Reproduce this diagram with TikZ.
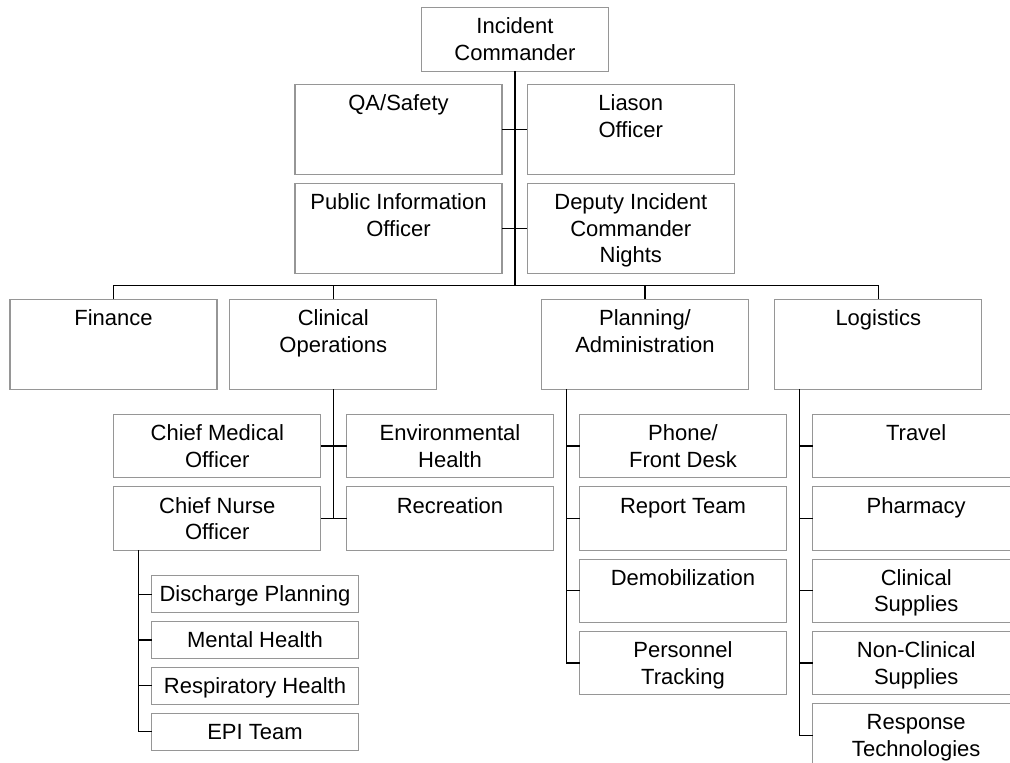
\documentclass[tikz,border=0pt]{standalone}
\usepackage{fontspec}
\setmainfont{Liberation Sans}
\definecolor{boxgray}{RGB}{150,150,150}
\begin{document}
\begin{tikzpicture}[x=1pt,y=-1pt,
  unit/.style={draw=boxgray, line width=1.1pt, fill=white, minimum width=207pt,
               inner sep=0pt, outer sep=0pt},
  tall/.style={unit, minimum height=90pt},
  mid/.style={unit, minimum height=63.4pt},
  low/.style={unit, minimum height=37pt},
  caption/.style={anchor=north, inner sep=0pt, yshift=-7.5pt, align=center,
                  font=\fontsize{22}{26.5}\selectfont},
  link/.style={draw=black, line width=1.2pt}
]
\useasboundingbox (0,0) rectangle (1010,763);
\fill[white] (0,0) rectangle (1010,763);
\clip (0,0) rectangle (1010,763);

% command staff
\node[unit, minimum width=186.6pt, minimum height=63.7pt,
      label={[caption]north:{\strut Incident\\Commander}}] (ic) at (515,39.2) {};
\node[tall, label={[caption]north:{\strut QA/Safety}}] (qa) at (398.5,129.3) {};
\node[tall, label={[caption]north:{\strut Liason\\Officer}}] (liaison) at (630.8,129.3) {};
\node[tall, label={[caption]north:{\strut Public Information\\Officer}}] (pio) at (398.5,228.3) {};
\node[tall, label={[caption]north:{\strut Deputy Incident\\Commander\\Nights}}] (deputy) at (630.8,228.3) {};

% sections
\node[tall, label={[caption]north:{\strut Finance}}] (fin) at (113.5,344.3) {};
\node[tall, label={[caption]north:{\strut Clinical\\Operations}}] (clin) at (333.3,344.3) {};
\node[tall, label={[caption]north:{\strut Planning/\\Administration}}] (plan) at (645,344.3) {};
\node[tall, label={[caption]north:{\strut Logistics}}] (logi) at (878.3,344.3) {};

% clinical operations units
\node[mid, label={[caption]north:{\strut Chief Medical\\Officer}}] (cmo) at (217.3,446) {};
\node[mid, label={[caption]north:{\strut Environmental\\Health}}] (env) at (450,446) {};
\node[mid, label={[caption]north:{\strut Chief Nurse\\Officer}}] (cno) at (217.3,518.5) {};
\node[mid, label={[caption]north:{\strut Recreation}}] (rec) at (450,518.5) {};

% nursing teams
\node[low, label={[caption]north:{\strut Discharge Planning}}] (dis) at (255,594.2) {};
\node[low, label={[caption]north:{\strut Mental Health}}] (men) at (255,640) {};
\node[low, label={[caption]north:{\strut Respiratory Health}}] (resp) at (255,685.8) {};
\node[low, label={[caption]north:{\strut EPI Team}}] (epi) at (255,731.7) {};

% planning units
\node[mid, label={[caption]north:{\strut Phone/\\Front Desk}}] (phone) at (683,446) {};
\node[mid, label={[caption]north:{\strut Report Team}}] (report) at (683,518.5) {};
\node[mid, label={[caption]north:{\strut Demobilization}}] (demob) at (683,590.8) {};
\node[mid, label={[caption]north:{\strut Personnel\\Tracking}}] (pers) at (683,663) {};

% logistics units
\node[mid, label={[caption]north:{\strut Travel}}] (travel) at (916.2,446) {};
\node[mid, label={[caption]north:{\strut Pharmacy}}] (pharm) at (916.2,518.5) {};
\node[mid, label={[caption]north:{\strut Clinical\\Supplies}}] (csup) at (916.2,590.8) {};
\node[mid, label={[caption]north:{\strut Non-Clinical\\Supplies}}] (ncsup) at (916.2,663) {};
\node[mid, label={[caption]north:{\strut Response\\Technologies}}] (resptech) at (916.2,735.4) {};

% connectors
\coordinate (bus) at (515,285.7);
\draw[link] (ic.south) -- (bus);
\draw[link] (qa.east) -- (liaison.west);
\draw[link] (pio.east) -- (deputy.west);
\draw[link] (fin.north) |- (bus) -| (logi.north);
\draw[link] (clin.north) -- (clin.north |- bus);
\draw[link] (plan.north) -- (plan.north |- bus);

\draw[link] (clin.south) -- (clin.south |- cno.east);
\draw[link] (cmo.east) -- (env.west);
\draw[link] (cno.east) -- (rec.west);

\coordinate (nursetrunk) at ([xshift=25pt]cno.south west);
\draw[link] (nursetrunk) |- (epi.west);
\foreach \n in {dis,men,resp}
  \draw[link] (\n.west) -- (\n.west -| nursetrunk);

\coordinate (plantrunk) at ([xshift=25pt]plan.south west);
\draw[link] (plantrunk) |- (pers.west);
\foreach \n in {phone,report,demob}
  \draw[link] (\n.west) -- (\n.west -| plantrunk);

\coordinate (logitrunk) at ([xshift=25pt]logi.south west);
\draw[link] (logitrunk) |- (resptech.west);
\foreach \n in {travel,pharm,csup,ncsup}
  \draw[link] (\n.west) -- (\n.west -| logitrunk);
\end{tikzpicture}
\end{document}
